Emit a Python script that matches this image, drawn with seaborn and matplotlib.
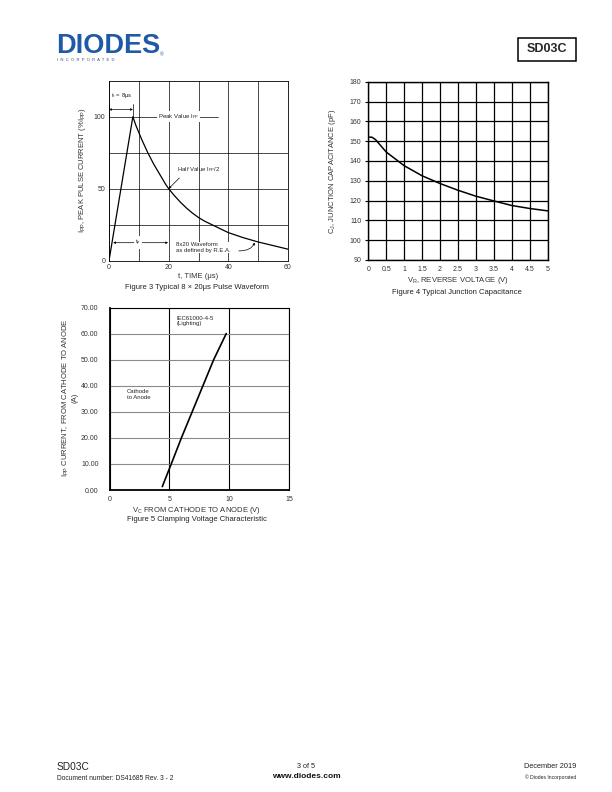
import matplotlib
matplotlib.use("Agg")
import matplotlib.pyplot as plt
import seaborn as sns
import pandas as pd
from matplotlib.patches import Rectangle

# ---------------- data ----------------
# Figure 3: 8x20us pulse waveform
pulse_time = [0, 8, 9, 10, 11, 12, 13, 14, 15, 16, 17, 18, 19, 20, 22, 24, 26, 28, 30,
              32, 35, 38, 40, 45, 50, 55, 60]
pulse_current = [0, 100, 94, 89, 84, 79.5, 75, 71, 67, 63.5, 60, 56.5, 53, 50, 45, 40.5,
                 36.5, 33, 30, 27.5, 24.5, 21.5, 19.5, 16, 13, 10.5, 8]
fig3_xticks = [0, 10, 20, 30, 40, 50, 60]
fig3_xlabels = ["0", "", "20", "", "40", "", "60"]
fig3_yticks = [0, 25, 50, 75, 100]
fig3_ylabels = ["0", "", "50", "", "100"]

# Figure 4: junction capacitance
rev_voltage = [0, 0.1, 0.2, 0.5, 1.0, 1.5, 2.0, 2.5, 3.0, 3.5, 4.0, 4.5, 5.0]
capacitance = [152, 152, 150.8, 144.5, 137.6, 132.5, 128.6, 125.2, 122.2, 119.8, 117.5, 116.0, 114.8]
fig4_xticks = [0, 0.5, 1, 1.5, 2, 2.5, 3, 3.5, 4, 4.5, 5]
fig4_xlabels = ["0", "0.5", "1", "1.5", "2", "2.5", "3", "3.5", "4", "4.5", "5"]
fig4_yticks = [90, 100, 110, 120, 130, 140, 150, 160, 170, 180]

# Figure 5: clamping voltage
clamp_voltage = [4.4, 5.15, 6.0, 6.9, 7.8, 8.7, 9.75]
clamp_current = [1.3, 10, 20, 30, 40, 50, 60]
fig5_xticks = [0, 5, 10, 15]
fig5_yticks = [0, 10, 20, 30, 40, 50, 60, 70]
fig5_ylabels = ["0.00", "10.00", "20.00", "30.00", "40.00", "50.00", "60.00", "70.00"]

# ---------------- style ----------------
sns.set_theme(style="white")
plt.rcParams['font.family'] = ['Liberation Sans', 'DejaVu Sans']
plt.rcParams['mathtext.fontset'] = 'custom'
plt.rcParams['mathtext.rm'] = 'Liberation Sans'
plt.rcParams['mathtext.it'] = 'Liberation Sans'
plt.rcParams['mathtext.bf'] = 'Liberation Sans:bold'

W, H = 612, 792
fig = plt.figure(figsize=(6.12, 7.92), dpi=100)
fig.patch.set_facecolor('white')


def px_axes(l, t, r, b):
    return fig.add_axes([l / W, 1 - b / H, (r - l) / W, (b - t) / H])


def ftext(x, y, s, **kw):
    return fig.text(x / W, 1 - y / H, s, **kw)


TICK = 5
LAB = 5.5
ANN = 4.3
GRAY = '#333333'

# ---------------- header ----------------
ftext(56, 46, "DIODES", fontsize=19.5, fontweight='bold', color='#1f5aa6',
      ha='left', va='center')
ftext(57, 60, "I  N  C  O  R  P  O  R  A  T  E  D", fontsize=3.0, color='#2c4f86',
      ha='left', va='center')
ftext(160, 54.5, "®", fontsize=3.5, color='#1f5aa6', ha='left', va='center')
fig.patches.append(Rectangle((518 / W, 1 - 61 / H), 58 / W, 23 / H, transform=fig.transFigure,
                             fill=False, lw=1.1, edgecolor='black'))
ftext(547, 49.5, "SD03C", fontsize=9, fontweight='bold', ha='center', va='center')

# ---------------- Figure 3 ----------------
ax3 = px_axes(109, 80.7, 288, 260.7)
sns.lineplot(x=pulse_time, y=pulse_current, ax=ax3, color='black', lw=0.9)
ax3.set_xlim(0, 60)
ax3.set_ylim(0, 125)
ax3.set_xticks(fig3_xticks)
ax3.set_xticklabels(fig3_xlabels)
ax3.set_yticks(fig3_yticks)
ax3.set_yticklabels(fig3_ylabels)
ax3.grid(True, color='black', lw=0.5)
ax3.yaxis.get_gridlines()[-1].set_visible(False)
ax3.set_axisbelow(True)
ax3.tick_params(axis='both', labelsize=TICK, length=0, pad=2.5, colors=GRAY)
for sp in ax3.spines.values():
    sp.set_color('black')
    sp.set_linewidth(0.6)
ax3.axhline(100, xmin=0, xmax=36.5 / 60, color='black', lw=0.5, zorder=1)
ax3.text(16.3, 100, "Peak Value I$_{\\mathrm{PP}}$", fontsize=ANN, ha='left', va='center',
         bbox=dict(facecolor='white', edgecolor='none', pad=0.6), zorder=3)
ax3.annotate("", xy=(0, 105), xytext=(8, 105),
             arrowprops=dict(arrowstyle='<|-|>', lw=0.5, color='black',
                             mutation_scale=3, shrinkA=0, shrinkB=0))
ax3.axvline(0, ymin=100 / 125, ymax=109 / 125, color='black', lw=0.5)
ax3.axvline(8, ymin=100 / 125, ymax=109 / 125, color='black', lw=0.5)
ax3.text(0.8, 111.5, "t$_{\\mathrm{r}}$ = 8μs", fontsize=ANN, ha='left', va='bottom')
ax3.annotate("Half Value I$_{\\mathrm{PP}}$/2", xy=(20, 50), xytext=(22.8, 63.5),
             fontsize=ANN, ha='left', va='center',
             arrowprops=dict(arrowstyle='-|>', lw=0.5, color='black', mutation_scale=3,
                             shrinkA=1, shrinkB=0, relpos=(0.15, 0)))
ax3.annotate("", xy=(19.8, 12.5), xytext=(1.4, 12.5),
             arrowprops=dict(arrowstyle='<|-|>', lw=0.5, color='black',
                             mutation_scale=3, shrinkA=0, shrinkB=0))
ax3.text(9.6, 12.5, "t$_{\\mathrm{p}}$", fontsize=ANN, ha='center', va='center',
         bbox=dict(facecolor='white', edgecolor='none', pad=0.8), zorder=3)
ax3.text(22.6, 9.2, "8x20 Waveform\nas defined by R.E.A.", fontsize=ANN, ha='left',
         va='center', linespacing=1.1,
         bbox=dict(facecolor='white', edgecolor='none', pad=0.3), zorder=3)
ax3.annotate("", xy=(48.8, 12.6), xytext=(43.5, 6.8),
             arrowprops=dict(arrowstyle='-|>', lw=0.5, color='black', mutation_scale=3,
                             shrinkA=0, shrinkB=0,
                             connectionstyle='angle3,angleA=0,angleB=70'))
ftext(83, 170, "I$_{\\mathrm{PP}}$, PEAK PULSE CURRENT (%I$_{\\mathrm{PP}}$)", fontsize=LAB,
      rotation=90, ha='center', va='center', color=GRAY)
ftext(198.5, 277, "t, TIME (μs)", fontsize=LAB, ha='center', va='center', color=GRAY)
ftext(197, 287.5, "Figure 3 Typical 8 × 20μs Pulse Waveform", fontsize=LAB,
      ha='center', va='center', color='#222222')

# ---------------- Figure 4 ----------------
ax4 = px_axes(368.3, 81.7, 547.7, 260)
sns.lineplot(x=rev_voltage, y=capacitance, ax=ax4, color='black', lw=1.1)
ax4.set_xlim(0, 5)
ax4.set_ylim(90, 180)
ax4.set_xticks(fig4_xticks)
ax4.set_xticklabels(fig4_xlabels)
ax4.set_yticks(fig4_yticks)
ax4.grid(True, color='black', lw=0.9)
ax4.tick_params(axis='x', labelsize=TICK, length=0, pad=4, colors=GRAY)
ax4.tick_params(axis='y', labelsize=TICK, length=2.5, width=0.8, pad=2.5,
                colors=GRAY, left=True)
ax4.tick_params(axis='y', color='black')
for sp in ax4.spines.values():
    sp.set_color('black')
    sp.set_linewidth(1.0)
ftext(333, 171, "C$_{\\mathrm{J}}$, JUNCTION CAPACITANCE (pF)", fontsize=LAB,
      rotation=90, ha='center', va='center', color=GRAY)
ftext(458, 281, "V$_{\\mathrm{R}}$, REVERSE VOLTAGE (V)", fontsize=LAB, ha='center',
      va='center', color=GRAY)
ftext(457, 292.5, "Figure 4 Typical Junction Capacitance", fontsize=LAB, ha='center',
      va='center', color='#222222')

# ---------------- Figure 5 ----------------
ax5 = px_axes(109.7, 307.5, 289, 490)
sns.lineplot(x=clamp_voltage, y=clamp_current, ax=ax5, color='black', lw=1.2)
ax5.set_xlim(0, 15)
ax5.set_ylim(0, 70)
ax5.set_xticks(fig5_xticks)
ax5.set_yticks(fig5_yticks)
ax5.set_yticklabels(fig5_ylabels)
ax5.grid(axis='y', color='#8a8a8a', lw=0.8)
ax5.grid(axis='x', color='black', lw=0.8)
ax5.set_axisbelow(True)
ax5.tick_params(axis='x', labelsize=TICK, length=0, pad=4.5, colors=GRAY)
ax5.tick_params(axis='y', labelsize=TICK, length=0, pad=8, colors=GRAY)
for name, sp in ax5.spines.items():
    sp.set_color('black')
    sp.set_linewidth(1.3 if name in ('left', 'bottom') else 0.8)
ax5.text(5.6, 66.8, "IEC61000-4-5\n(Lighting)", fontsize=ANN, ha='left', va='top',
         linespacing=1.1)
ax5.text(1.45, 36.5, "Cathode\nto Anode", fontsize=ANN, ha='left', va='center',
         linespacing=1.2)
ftext(70, 398, "I$_{\\mathrm{PP}}$ CURRENT, FROM CATHODE TO ANODE\n(A)", fontsize=LAB,
      rotation=90, ha='center', va='center', color=GRAY, linespacing=1.1)
ftext(196, 510, "V$_{\\mathrm{C}}$ FROM CATHODE TO ANODE (V)", fontsize=LAB, ha='center',
      va='center', color=GRAY)
ftext(197, 519.5, "Figure 5 Clamping Voltage Characteristic", fontsize=LAB, ha='center',
      va='center', color='#222222')

# ---------------- footer ----------------
ftext(57, 767, "SD03C", fontsize=7.3, ha='left', va='center', color='#222222')
ftext(57, 778, "Document number: DS41685 Rev. 3 - 2", fontsize=4.8, ha='left',
      va='center', color='#222222')
ftext(306, 766.5, "3 of 5", fontsize=5.2, ha='center', va='center', color='#222222')
ftext(306, 776, "www.diodes.com", fontsize=6, fontweight='bold', ha='center',
      va='center', color='#111111')
ftext(576, 767, "December 2019", fontsize=5.3, ha='right', va='center', color='#222222')
ftext(576, 777, "© Diodes Incorporated", fontsize=3.6, ha='right', va='center',
      color='#222222')

fig.savefig("out.png", dpi=100, facecolor='white')
